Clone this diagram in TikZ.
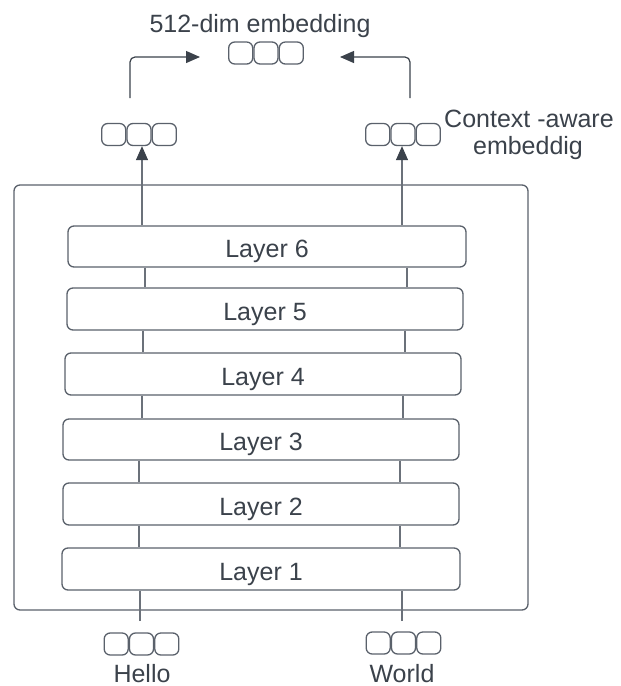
\documentclass[tikz,border=0pt]{standalone}
\usepackage{fontspec}
\setmainfont{Liberation Sans}
\usetikzlibrary{arrows.meta}
\definecolor{ink}{HTML}{3B424B}
\definecolor{edge}{HTML}{5A616B}
\definecolor{wirec}{HTML}{6B717A}
\tikzset{
  txt/.style={text=ink, font=\fontsize{25}{30}\selectfont, inner sep=0pt},
  layerbox/.style={draw=edge, line width=1.3pt, rounded corners=6pt, fill=white,
    txt, text height=22pt, text depth=0pt},
  cell/.style={draw=edge, line width=1.3pt, rounded corners=6pt,
    minimum width=24pt, minimum height=22pt, inner sep=0pt},
  wire/.style={draw=wirec, line width=1.2pt},
  tip/.style={-{Triangle[length=14pt, width=12pt, color=ink]}}
}
% three-cell embedding vector: #1 name, #2 centre
\newcommand{\embvec}[2]{%
  \node[cell] (#1-2) at (#2) {};
  \node[cell, anchor=east] (#1-1) at (#1-2.west) {};
  \node[cell, anchor=west] (#1-3) at (#1-2.east) {};}
\begin{document}
\begin{tikzpicture}[x=1pt, y=-1pt]
\useasboundingbox (0,0) rectangle (621,686);

% encoder frame
\node[draw=edge, line width=1.3pt, rounded corners=6pt,
      minimum width=514pt, minimum height=425pt] (enc) at (271,397.5) {};

% stacked layers
\node[layerbox, minimum width=398pt, minimum height=41pt] (L6) at (267,246.5) {Layer 6};
\node[layerbox, minimum width=396pt, minimum height=42pt] (L5) at (265,309) {Layer 5};
\node[layerbox, minimum width=396pt, minimum height=42pt] (L4) at (263,374) {Layer 4};
\node[layerbox, minimum width=396pt, minimum height=41pt] (L3) at (261,439.5) {Layer 3};
\node[layerbox, minimum width=396pt, minimum height=42pt] (L2) at (261,504) {Layer 2};
\node[layerbox, minimum width=398pt, minimum height=42pt] (L1) at (261,569) {Layer 1};

% token embeddings and labels
\embvec{eh}{141.5,644}
\embvec{ew}{403.5,643}
\node[txt, anchor=base] (hello) at (142,682) {Hello};
\node[txt, anchor=base] (world) at (402,682) {World};

% context-aware embeddings
\embvec{cl}{139,134.5}
\embvec{cr}{403,134.5}
\node[txt, anchor=base] (ctx) at (529,127.5) {Context -aware};
\node[txt, anchor=base] (ctx2) at (528,154) {embeddig};

% pooled output
\embvec{out}{266,53}
\node[txt, anchor=base] (title) at (260,32) {512-dim embedding};

% connections between layers
\foreach \u/\l/\xa/\xb in {L6/L5/145/407, L5/L4/143/405, L4/L3/142/403, L3/L2/139/400, L2/L1/139/400}{
  \draw[wire] (\u.south -| \xa,0) -- (\l.north -| \xa,0);
  \draw[wire] (\u.south -| \xb,0) -- (\l.north -| \xb,0);
}

% inputs entering the first layer
\coordinate (inL) at (140,621);
\coordinate (inR) at (402,621);
\draw[wire] (inL) -- (L1.south -| inL);
\draw[wire] (inR) -- (L1.south -| inR);

% outputs leaving the last layer
\draw[wire, tip] (L6.north -| 142,0) -- (cl-2.south -| 142,0);
\draw[wire, tip] (L6.north -| 402,0) -- (cr-2.south -| 402,0);

% pooling arrows
\coordinate (upL) at (130,98);
\coordinate (upR) at (410,98);
\coordinate (inOL) at (200,57);
\coordinate (inOR) at (340,57);
\draw[wire, draw=ink, tip, rounded corners=5pt] (upL) |- (inOL);
\draw[wire, draw=ink, tip, rounded corners=5pt] (upR) |- (inOR);
\end{tikzpicture}
\end{document}
